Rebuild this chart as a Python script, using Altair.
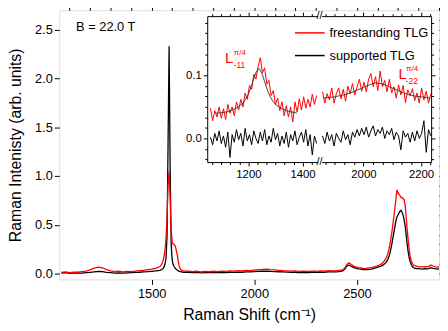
import altair as alt
import pandas as pd

FONT = "Liberation Sans"
W, H = 385, 273

# ---------------- main spectra ----------------
shift = [1060, 1080, 1100, 1120, 1140, 1160, 1180, 1200, 1220, 1240, 1260, 1280, 1300, 1320, 1340,
         1360, 1380, 1400, 1420, 1440, 1460, 1480, 1500, 1520, 1540,
         1545, 1550, 1555, 1560, 1565, 1570, 1575, 1580, 1585, 1590, 1595, 1600, 1605, 1610, 1615,
         1620, 1625, 1630, 1635, 1640, 1645, 1650, 1655, 1660,
         1680, 1700, 1720, 1740, 1760, 1780, 1800, 1820, 1840, 1860, 1880, 1900, 1920, 1940, 1960,
         1980, 2000, 2020, 2040, 2060, 2080, 2100, 2120, 2140, 2160, 2180, 2200, 2220, 2240, 2260,
         2280, 2300, 2320, 2340, 2360, 2380,
         2400, 2410, 2420, 2430, 2440, 2450, 2460, 2470, 2480, 2490, 2500, 2510, 2520, 2530, 2540,
         2550, 2560, 2570, 2580, 2590, 2600, 2610, 2620, 2630, 2640,
         2645, 2650, 2655, 2660, 2665, 2670, 2675, 2680, 2685, 2690, 2695, 2700, 2705, 2710, 2715,
         2720, 2725, 2730, 2735, 2740, 2745, 2750, 2755, 2760, 2765, 2770, 2775, 2780,
         2790, 2800, 2810, 2820, 2830, 2840, 2850, 2860, 2870, 2880, 2890, 2900]

free_main = [0.012, 0.018, 0.010, 0.016, 0.014, 0.020, 0.026, 0.038, 0.056, 0.066, 0.060, 0.040, 0.028,
             0.020, 0.024, 0.018, 0.022, 0.020, 0.026, 0.030, 0.034, 0.040, 0.046, 0.054, 0.072,
             0.085, 0.10, 0.13, 0.17, 0.24, 0.36, 0.58, 0.92, 1.05, 0.78, 0.45, 0.33, 0.30, 0.30, 0.28,
             0.24, 0.19, 0.12, 0.07, 0.045, 0.035, 0.030, 0.028, 0.025,
             0.024, 0.020, 0.024, 0.018, 0.022, 0.019, 0.024, 0.021, 0.026, 0.023, 0.027, 0.025, 0.030,
             0.028, 0.033, 0.031, 0.036, 0.040, 0.042, 0.046, 0.041, 0.038, 0.034, 0.030, 0.028, 0.025,
             0.027, 0.023, 0.026, 0.022, 0.026, 0.024, 0.028, 0.026, 0.030, 0.029,
             0.030, 0.032, 0.035, 0.038, 0.055, 0.092, 0.110, 0.098, 0.082, 0.072, 0.066, 0.061, 0.058,
             0.054, 0.052, 0.055, 0.058, 0.061, 0.066, 0.072, 0.080, 0.088, 0.100, 0.118, 0.150,
             0.17, 0.20, 0.24, 0.29, 0.35, 0.42, 0.50, 0.58, 0.67, 0.76, 0.86, 0.83, 0.81, 0.80, 0.78,
             0.78, 0.77, 0.76, 0.70, 0.58, 0.45, 0.34, 0.24, 0.17, 0.13, 0.105, 0.09, 0.082,
             0.076, 0.072, 0.070, 0.068, 0.071, 0.069, 0.074, 0.088, 0.078, 0.070, 0.067, 0.069]

supp_main = [0.004, 0.010, 0.002, 0.008, 0.006, 0.004, 0.010, 0.012, 0.018, 0.022, 0.020, 0.012, 0.010,
             0.006, 0.008, 0.004, 0.008, 0.010, 0.012, 0.014, 0.018, 0.020, 0.024, 0.028, 0.034,
             0.038, 0.042, 0.050, 0.066, 0.095, 0.16, 0.38, 1.35, 2.33, 1.10, 0.30, 0.14, 0.09, 0.07,
             0.055, 0.045, 0.035, 0.028, 0.022, 0.020, 0.018, 0.016, 0.014, 0.015,
             0.014, 0.010, 0.012, 0.008, 0.011, 0.009, 0.012, 0.010, 0.013, 0.011, 0.014, 0.012, 0.016,
             0.014, 0.018, 0.017, 0.020, 0.022, 0.024, 0.026, 0.023, 0.021, 0.019, 0.017, 0.015, 0.013,
             0.014, 0.011, 0.013, 0.010, 0.013, 0.012, 0.015, 0.014, 0.017, 0.018,
             0.018, 0.020, 0.024, 0.028, 0.045, 0.075, 0.088, 0.078, 0.066, 0.058, 0.052, 0.048, 0.045,
             0.042, 0.040, 0.042, 0.044, 0.047, 0.052, 0.058, 0.064, 0.072, 0.080, 0.092, 0.110,
             0.125, 0.14, 0.17, 0.20, 0.25, 0.30, 0.36, 0.42, 0.48, 0.54, 0.58, 0.60, 0.62, 0.64, 0.65,
             0.63, 0.60, 0.55, 0.49, 0.40, 0.30, 0.22, 0.16, 0.12, 0.09, 0.072, 0.062, 0.056,
             0.052, 0.050, 0.048, 0.047, 0.050, 0.048, 0.052, 0.060, 0.054, 0.050, 0.047, 0.049]

# ---------------- inset spectra (broken x axis) ----------------
ins_left_x = list(range(1060, 1453, 8))
ins_left_free = [0.048, 0.028, 0.044, 0.034, 0.050, 0.032, 0.047, 0.030, 0.054, 0.040,
                 0.050, 0.036, 0.058, 0.045, 0.062, 0.050, 0.072, 0.062, 0.084, 0.078,
                 0.102, 0.094, 0.114, 0.128, 0.104, 0.112, 0.086, 0.092, 0.068, 0.076,
                 0.054, 0.064, 0.044, 0.058, 0.036, 0.052, 0.034, 0.050, 0.026, 0.058,
                 0.042, 0.063, 0.045, 0.066, 0.048, 0.062, 0.050, 0.070, 0.054, 0.068]
ins_left_supp = [0.002, -0.010, 0.008, -0.004, 0.012, -0.008, 0.004, -0.014, 0.010, -0.030,
                 0.006, -0.006, 0.014, -0.002, 0.008, -0.012, 0.016, -0.004, 0.006, -0.010,
                 0.012, 0.000, -0.008, 0.010, -0.004, 0.014, -0.010, 0.004, -0.006, 0.016,
                 -0.002, 0.008, -0.012, 0.004, -0.008, 0.010, -0.014, 0.006, -0.004, 0.012,
                 -0.010, 0.002, 0.010, -0.006, 0.014, -0.012, 0.006, -0.026, 0.004, -0.008]

ins_right_x = list(range(1858, 2235, 8))
ins_right_free = [0.074, 0.056, 0.071, 0.061, 0.080, 0.056, 0.071, 0.080, 0.063, 0.078,
                  0.059, 0.083, 0.071, 0.087, 0.069, 0.082, 0.094, 0.075, 0.089, 0.074,
                  0.094, 0.103, 0.082, 0.098, 0.076, 0.107, 0.082, 0.092, 0.074, 0.094,
                  0.072, 0.082, 0.064, 0.085, 0.069, 0.084, 0.057, 0.077, 0.068, 0.079,
                  0.060, 0.072, 0.056, 0.080, 0.061, 0.075, 0.056, 0.071]
ins_right_supp = [0.004, -0.008, 0.010, -0.004, 0.006, -0.012, 0.008, 0.000, -0.006, 0.012,
                  -0.002, 0.006, -0.010, 0.010, 0.002, 0.014, 0.004, 0.016, 0.006, 0.018,
                  0.002, 0.012, 0.020, 0.004, 0.014, 0.008, 0.018, 0.000, 0.012, 0.006,
                  0.016, -0.002, 0.010, 0.004, -0.018, 0.012, 0.002, 0.008, -0.006, 0.010,
                  -0.004, 0.012, 0.000, 0.008, 0.028, -0.022, 0.014, 0.004]

fit_left_x = [1080, 1100, 1120, 1140, 1160, 1180, 1190, 1200, 1210, 1220, 1230, 1240, 1250,
              1260, 1270, 1280, 1290, 1300, 1320, 1340, 1360, 1380]
fit_left_y = [0.040, 0.041, 0.042, 0.045, 0.049, 0.056, 0.062, 0.070, 0.082, 0.095, 0.107, 0.111,
              0.103, 0.090, 0.077, 0.067, 0.059, 0.054, 0.048, 0.044, 0.042, 0.040]
fit_right_x = [1860, 1880, 1900, 1920, 1940, 1960, 1980, 2000, 2020, 2040, 2060, 2080, 2100,
               2120, 2140, 2160, 2180, 2200, 2220, 2232]
fit_right_y = [0.064, 0.065, 0.066, 0.068, 0.070, 0.073, 0.077, 0.081, 0.085, 0.088, 0.087,
               0.084, 0.080, 0.076, 0.072, 0.069, 0.067, 0.066, 0.065, 0.064]

SERIES = ["freestanding TLG", "supported TLG"]
COLORS = ["#ff0000", "#000000"]

# ---------------- scales ----------------
def sc(domain, rng=None):
    if rng is None:
        return alt.Scale(domain=domain, nice=False, zero=False)
    return alt.Scale(domain=domain, range=rng, nice=False, zero=False)

XM, YM = [1050, 2900], [-0.06, 2.70]
XL, XL_R = [1048, 1456], [150, 262]
XR, XR_R = [1855, 2235], [266, 377]
YI, YI_R = [-0.0375, 0.194], [154, 6]

color_scale = alt.Scale(domain=SERIES, range=COLORS)
legend = alt.Legend(orient="none", legendX=238, legendY=7, title=None, symbolType="stroke",
                    symbolSize=900, symbolStrokeWidth=1.5, labelFont=FONT, labelFontSize=13,
                    labelColor="black", padding=0, rowPadding=-4.5, labelOffset=4)


def ax(**kw):
    base = dict(grid=False, domain=False, ticks=True, tickColor="black", tickWidth=1,
                labels=False, labelFont=FONT, labelColor="black", title=None,
                domainColor="black", domainWidth=1)
    base.update(kw)
    return alt.Axis(**base)


def axis_layer(xscale=None, yscale=None, xaxis=None, yaxis=None, xv=0, yv=0):
    df = pd.DataFrame({"a": [xv], "b": [yv]})
    enc = {}
    if xscale is not None:
        enc["x"] = alt.X("a:Q", scale=xscale, axis=xaxis)
    if yscale is not None:
        enc["y"] = alt.Y("b:Q", scale=yscale, axis=yaxis)
    return alt.Chart(df).mark_point(opacity=0).encode(**enc)


def text_layer(xs, ys, texts, xscale, yscale, size, color="#ff0000", align="left",
               baseline="alphabetic"):
    df = pd.DataFrame({"x": xs, "y": ys, "t": texts})
    return alt.Chart(df).mark_text(font=FONT, fontSize=size, color=color, align=align,
                                   baseline=baseline).encode(
        x=alt.X("x:Q", scale=xscale, axis=None),
        y=alt.Y("y:Q", scale=yscale, axis=None),
        text="t:N")


layers = []

# main spectra (black first, red on top)
main_df = pd.DataFrame({
    "shift": shift + shift,
    "intensity": supp_main + free_main,
    "series": ["supported TLG"] * len(shift) + ["freestanding TLG"] * len(shift),
})
for name in ["supported TLG", "freestanding TLG"]:
    layers.append(
        alt.Chart(main_df).transform_filter(alt.datum.series == name)
        .mark_line(strokeWidth=1.3)
        .encode(x=alt.X("shift:Q", scale=sc(XM), axis=None),
                y=alt.Y("intensity:Q", scale=sc(YM), axis=None),
                color=alt.Color("series:N", scale=color_scale, legend=legend))
    )

# main axes
layers.append(axis_layer(
    sc(XM), sc(YM),
    ax(values=[1500, 2000, 2500], tickSize=5, labels=True, labelFontSize=13, labelPadding=3,
       format="d", labelFlush=False, title="Raman Shift (cm⁻¹)", titleFont=FONT,
       titleFontSize=16, titleFontWeight="normal", titleColor="black", titlePadding=7),
    ax(values=[0, 0.5, 1.0, 1.5, 2.0, 2.5], tickSize=5, labels=True, labelFontSize=13,
       labelPadding=2, format=".1f", title="Raman Intenisty (arb. units)", titleFont=FONT,
       titleFontSize=16, titleFontWeight="normal", titleColor="black", titlePadding=11),
    xv=1100, yv=0.0))
layers.append(axis_layer(
    sc(XM), sc(YM),
    ax(values=list(range(1100, 2901, 100)), tickSize=3),
    ax(values=[round(i * 0.1, 1) for i in range(27)], tickSize=3),
    xv=1100, yv=0.0))

# main annotation
layers.append(text_layer([1132], [2.53], ["B = 22.0 T"], sc(XM), sc(YM), 13, color="black",
                         baseline="middle"))

# inset data
for xs, fr, su, xsc, xr in [(ins_left_x, ins_left_free, ins_left_supp, XL, XL_R),
                           (ins_right_x, ins_right_free, ins_right_supp, XR, XR_R)]:
    df = pd.DataFrame({"shift": xs + xs, "intensity": su + fr,
                       "series": ["supported TLG"] * len(xs) + ["freestanding TLG"] * len(xs)})
    layers.append(
        alt.Chart(df).mark_line(strokeWidth=1)
        .encode(x=alt.X("shift:Q", scale=sc(xsc, xr), axis=None),
                y=alt.Y("intensity:Q", scale=sc(YI, YI_R), axis=None),
                color=alt.Color("series:N", scale=color_scale, legend=legend),
                detail="series:N")
    )

# inset fits
for fx, fy, xsc, xr in [(fit_left_x, fit_left_y, XL, XL_R), (fit_right_x, fit_right_y, XR, XR_R)]:
    df = pd.DataFrame({"shift": fx, "fit": fy})
    layers.append(
        alt.Chart(df).mark_line(strokeWidth=0.9, color="#333333")
        .encode(x=alt.X("shift:Q", scale=sc(xsc, xr), axis=None),
                y=alt.Y("fit:Q", scale=sc(YI, YI_R), axis=None))
    )

# inset axes
y_minor = [-0.0333, -0.0167, 0.0167, 0.0333, 0.05, 0.0667, 0.0833, 0.1167, 0.1333, 0.15,
           0.1667, 0.1833]
xl_minor = [1067, 1100, 1133, 1167, 1233, 1267, 1300, 1333, 1367, 1433]
xr_minor = [1867, 1900, 1933, 1967, 2033, 2067, 2100, 2133, 2167, 2233]
BOT = -(H - YI_R[0])
TOP = -YI_R[1]
LEFT = -XL_R[0]
RIGHT = -(W - XR_R[1])

layers.append(axis_layer(
    sc(XL, XL_R), sc(YI, YI_R),
    ax(values=[1200, 1400], orient="bottom", offset=BOT, domain=True, tickSize=4, labels=True,
       labelFontSize=11.5, labelPadding=3, format="d", labelFlush=False),
    ax(values=[0.0, 0.1], orient="left", offset=LEFT, domain=True, tickSize=4, labels=True,
       labelFontSize=11.5, labelPadding=2, format=".1f"),
    xv=1200, yv=0.0))
layers.append(axis_layer(
    sc(XL, XL_R), sc(YI, YI_R),
    ax(values=xl_minor, orient="bottom", offset=BOT, tickSize=2.5),
    ax(values=y_minor, orient="left", offset=LEFT, tickSize=2.5),
    xv=1200, yv=0.0))
layers.append(axis_layer(
    sc(XL, XL_R), sc(YI, YI_R),
    ax(values=[1200, 1400], orient="top", offset=TOP, domain=True, tickSize=4),
    ax(values=[0.0, 0.1], orient="right", offset=RIGHT, domain=True, tickSize=4),
    xv=1200, yv=0.0))
layers.append(axis_layer(
    sc(XL, XL_R), sc(YI, YI_R),
    ax(values=xl_minor, orient="top", offset=TOP, tickSize=2.5),
    ax(values=y_minor, orient="right", offset=RIGHT, tickSize=2.5),
    xv=1200, yv=0.0))
layers.append(axis_layer(
    sc(XR, XR_R), None,
    ax(values=[2000, 2200], orient="bottom", offset=BOT, domain=True, tickSize=4, labels=True,
       labelFontSize=11.5, labelPadding=3, format="d", labelFlush=False),
    None, xv=2000))
layers.append(axis_layer(sc(XR, XR_R), None,
                         ax(values=xr_minor, orient="bottom", offset=BOT, tickSize=2.5),
                         None, xv=2000))
layers.append(axis_layer(sc(XR, XR_R), None,
                         ax(values=[2000, 2200], orient="top", offset=TOP, domain=True,
                            tickSize=4), None, xv=2000))
layers.append(axis_layer(sc(XR, XR_R), None,
                         ax(values=xr_minor, orient="top", offset=TOP, tickSize=2.5),
                         None, xv=2000))

# axis break marks
layers.append(text_layer([1463, 1463], [YI[1], YI[0]], ["//", "//"], sc(XL, XL_R),
                         sc(YI, YI_R), 11, color="black", align="center", baseline="middle"))

# peak labels L_{-11}^{pi/4}, L_{-22}^{pi/4}
layers.append(text_layer([1114], [0.120], ["L"], sc(XL, XL_R), sc(YI, YI_R), 15))
layers.append(text_layer([1146], [0.133], ["π/4"], sc(XL, XL_R), sc(YI, YI_R), 8))
layers.append(text_layer([1146], [0.1115], ["-11"], sc(XL, XL_R), sc(YI, YI_R), 8.5))
layers.append(text_layer([2122], [0.095], ["L"], sc(XR, XR_R), sc(YI, YI_R), 15))
layers.append(text_layer([2148], [0.107], ["π/4"], sc(XR, XR_R), sc(YI, YI_R), 8))
layers.append(text_layer([2147], [0.087], ["-22"], sc(XR, XR_R), sc(YI, YI_R), 8.5))

chart = (
    alt.layer(*layers)
    .resolve_scale(x="independent", y="independent", color="shared")
    .properties(width=W, height=H,
                padding={"left": 52, "top": 0, "right": 1, "bottom": 48},
                autosize=alt.AutoSizeParams(type="none"))
    .configure_view(stroke="black", strokeWidth=1)
    .configure(font=FONT, background="white")
)

chart.save("out.html", embed_options={"renderer": "svg", "actions": False})
